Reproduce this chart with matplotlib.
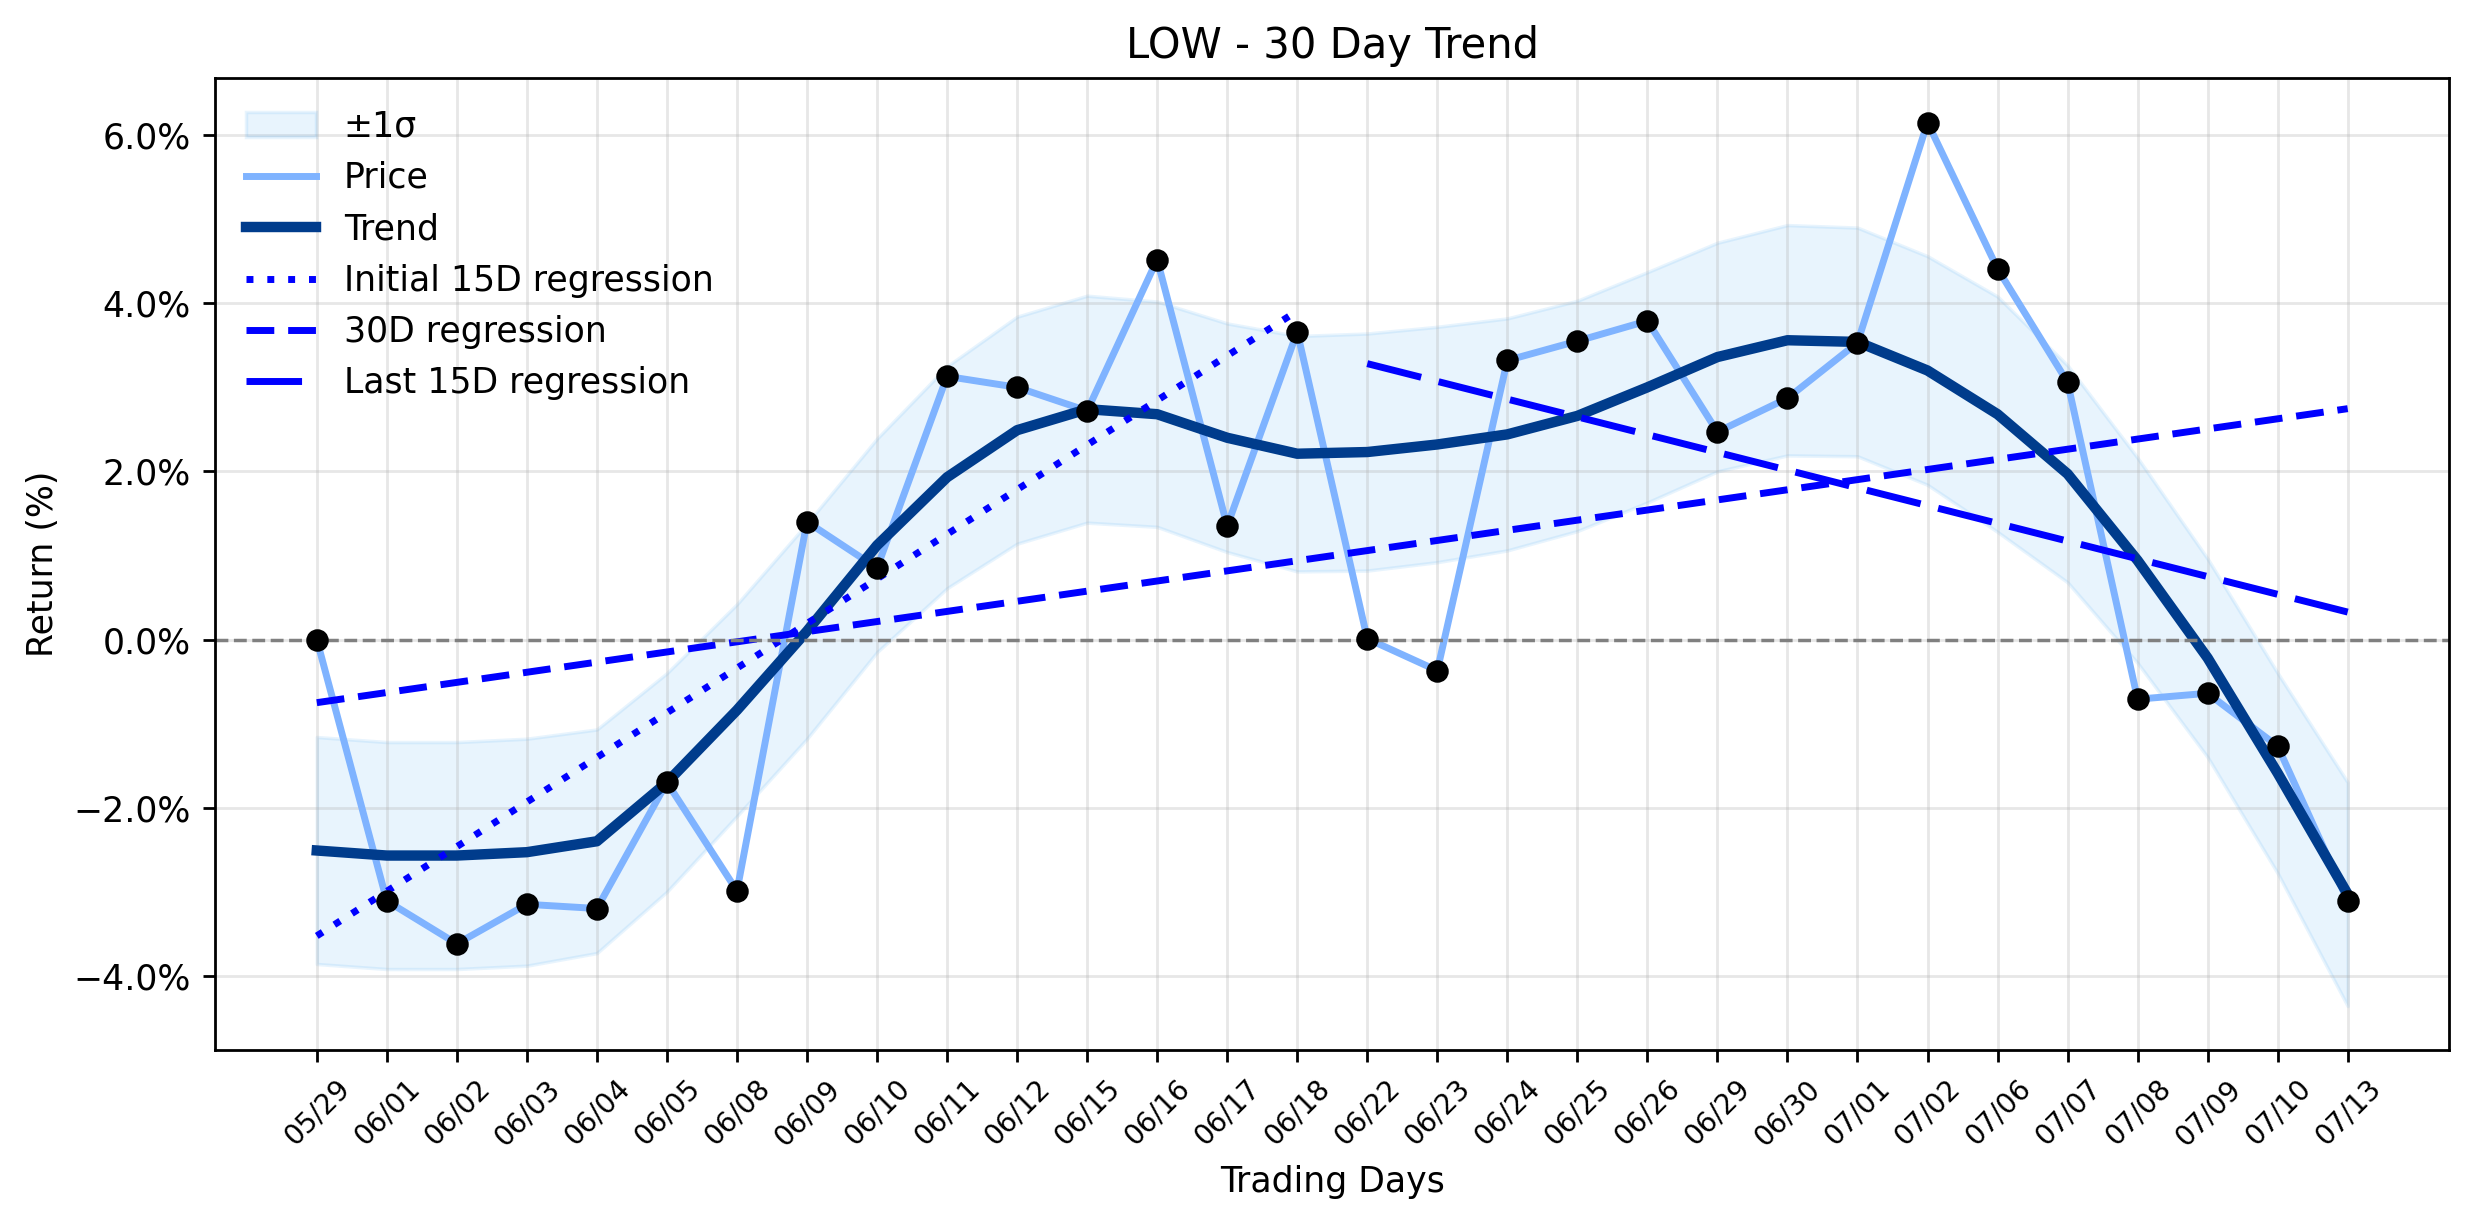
import numpy as np
import matplotlib
matplotlib.use("Agg")
import matplotlib.pyplot as plt
from matplotlib.ticker import PercentFormatter

# trading days shown on the x axis
dates = ["05/29", "06/01", "06/02", "06/03", "06/04", "06/05", "06/08", "06/09",
         "06/10", "06/11", "06/12", "06/15", "06/16", "06/17", "06/18", "06/22",
         "06/23", "06/24", "06/25", "06/26", "06/29", "06/30", "07/01", "07/02",
         "07/06", "07/07", "07/08", "07/09", "07/10", "07/13"]

# cumulative return (%)
price = [0.00, -3.11, -3.62, -3.15, -3.20, -1.70, -2.99, 1.40, 0.85, 3.13,
         3.00, 2.72, 4.52, 1.35, 3.66, 0.01, -0.37, 3.32, 3.55, 3.79,
         2.47, 2.87, 3.53, 6.15, 4.41, 3.06, -0.71, -0.64, -1.27, -3.11]

# smoothed trend (%)
trend = [-2.51, -2.57, -2.57, -2.53, -2.40, -1.70, -0.84, 0.10, 1.12, 1.93,
         2.49, 2.74, 2.68, 2.40, 2.21, 2.23, 2.32, 2.44, 2.66, 3.00,
         3.36, 3.56, 3.54, 3.20, 2.68, 1.97, 0.94, -0.22, -1.59, -3.03]

# half width of the +-1 sigma band (%)
sigma = [1.35, 1.35, 1.35, 1.35, 1.33, 1.30, 1.26, 1.28, 1.27, 1.32,
         1.35, 1.35, 1.34, 1.36, 1.40, 1.41, 1.40, 1.38, 1.37, 1.37,
         1.36, 1.37, 1.36, 1.36, 1.40, 1.29, 1.22, 1.18, 1.19, 1.33]

x = np.arange(len(dates))
price = np.array(price)
trend = np.array(trend)
sigma = np.array(sigma)

fig = plt.figure(figsize=(2474 / 250, 1224 / 250), dpi=250)
ax = fig.add_subplot(1, 1, 1)
fig.subplots_adjust(left=0.087, right=0.99, top=0.936, bottom=0.142)

ax.fill_between(x, trend - sigma, trend + sigma, color="#2196F3", alpha=0.1, label="\u00b11\u03c3")
ax.plot(x, price, color="#7FB3FF", lw=2, label="Price")
ax.plot(x, trend, color="#003C8C", lw=3, label="Trend")
ax.scatter(x, price, color="black", s=30, zorder=5)

# regressions on the price series
k1, b1 = np.polyfit(x[:15], price[:15], 1)
ax.plot(x[:15], k1 * x[:15] + b1, color="blue", lw=2, linestyle=(0, (1, 2)),
        label="Initial 15D regression")
k2, b2 = np.polyfit(x, price, 1)
ax.plot(x, k2 * x + b2, color="blue", lw=2, linestyle=(0, (4, 2)), label="30D regression")
k3, b3 = np.polyfit(x[15:], price[15:], 1)
ax.plot(x[15:], k3 * x[15:] + b3, color="blue", lw=2, linestyle=(0, (8, 2.6)),
        label="Last 15D regression")

ax.axhline(0, color="gray", lw=1, linestyle="--")

ax.set_xticks(x)
ax.set_xticklabels(dates, rotation=45, fontsize=8)
ax.yaxis.set_major_formatter(PercentFormatter(decimals=1))
ax.grid(True, alpha=0.3)
ax.set_title("LOW - 30 Day Trend", fontsize=12)
ax.set_xlabel("Trading Days")
ax.set_ylabel("Return (%)")
ax.legend(loc="upper left", frameon=False)

fig.savefig("out.png", dpi=250)
